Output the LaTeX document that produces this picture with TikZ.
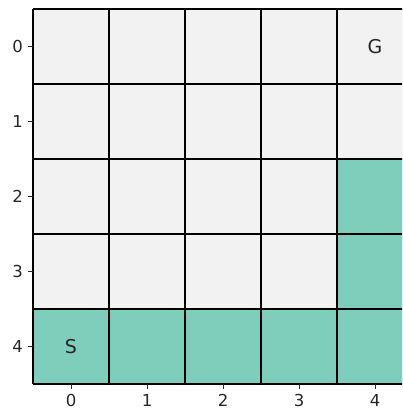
\documentclass[tikz,border=0pt]{standalone}
\usepackage{fontspec}
\setmainfont{DejaVu Sans}
\definecolor{cellgray}{HTML}{F2F2F2}
\definecolor{cellteal}{HTML}{7FCDBB}
\definecolor{txt}{HTML}{262626}
\begin{document}
\begin{tikzpicture}[x=1pt,y=-1pt,
  gridline/.style={line width=2.9pt,black},
  ticklab/.style={text=txt,font=\fontsize{16.5}{16.5}\selectfont,inner sep=0pt},
  celllab/.style={text=txt,font=\fontsize{19}{19}\selectfont,inner sep=0pt},
  tickmark/.style={line width=0.9pt,txt}]
\useasboundingbox (0,0) rectangle (402,411);
\begin{scope}
\clip (0,0) rectangle (402,411);
% background cells
\fill[cellgray] (33,9) rectangle (413,384);
\fill[cellteal] (33,309) rectangle (413,384);
\fill[cellteal] (337,159) rectangle (413,309);
% grid lines
\foreach \i in {0,...,5} {
  \draw[gridline] ({33+76*\i},9) -- ({33+76*\i},384);
  \draw[gridline] (33,{9+75*\i}) -- (413,{9+75*\i});
}
\end{scope}
% ticks and labels
\foreach \i in {0,...,4} {
  \draw[tickmark] (28,{46.5+75*\i}) -- (33,{46.5+75*\i});
  \node[ticklab,anchor=east] (r\i) at (23,{46.5+75*\i}) {\i};
  \draw[tickmark] ({71+76*\i},384) -- ({71+76*\i},389);
  \node[ticklab,anchor=north] (c\i) at ({71+76*\i},394) {\i};
}
\node[celllab] (S) at (71,346.5) {S};
\node[celllab] (G) at (375,46.5) {G};
\end{tikzpicture}
\end{document}
